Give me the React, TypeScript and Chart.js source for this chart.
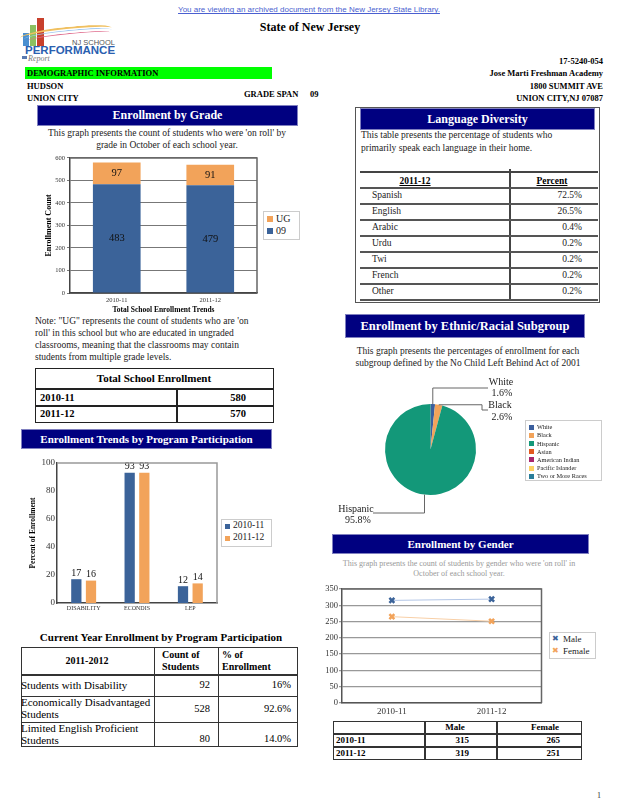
import React, { useEffect, useRef } from "react";
import { Chart, registerables } from "chart.js";
Chart.register(...registerables);

const SERIF = '"Liberation Serif", "Times New Roman", serif';
const SANS = '"Liberation Sans", Arial, sans-serif';
const BLUE = "#3b6399";
const ORANGE = "#f2a35a";
const NAVY = "#000080";

// ---------- data ----------
const gradeYears = ["2010-11", "2011-12"];
const grade09 = [483, 479];
const gradeUG = [97, 91];
const totalYears = ["2010-11", "2011-12"];
const totalEnrollment = [580, 570];

const langNames = ["Spanish", "English", "Arabic", "Urdu", "Twi", "French", "Other"];
const langPct = ["72.5%", "26.5%", "0.4%", "0.2%", "0.2%", "0.2%", "0.2%"];

const programCats = ["DISABILITY", "ECONDIS", "LEP"];
const program2010 = [17, 93, 12];
const program2011 = [16, 93, 14];

const ethnicLabels = ["White", "Black", "Hispanic", "Asian", "American Indian", "Pacific Islander", "Two or More Races"];
const ethnicPct = [1.6, 2.6, 95.8, 0, 0, 0, 0];
const ethnicColors = ["#3b5f9e", "#f2a35a", "#139879", "#e2581f", "#a8266d", "#fdd262", "#2a7d99"];

const genderYears = ["2010-11", "2011-12"];
const genderMale = [315, 319];
const genderFemale = [265, 251];

const currentRows = [["Students with Disability"], ["Economically Disadvantaged", "Students"], ["Limited English Proficient", "Students"]];
const currentCounts = [92, 528, 80];
const currentPct = ["16%", "92.6%", "14.0%"];

// ---------- helpers ----------
function Txt(p: any) {
  const { x, y, size = 10, bold = false, align = "left", color = "#000", family = SERIF, w = 300, italic = false, underline = false, children } = p;
  let left = x;
  if (align === "right") left = x - w;
  if (align === "center") left = x - w / 2;
  return (
    <div
      style={{
        position: "absolute", left, top: y - size * 0.6, width: align === "left" ? undefined : w,
        textAlign: align, fontSize: size, lineHeight: size * 1.2 + "px", fontFamily: family,
        fontWeight: bold ? "bold" : "normal", fontStyle: italic ? "italic" : "normal", color,
        whiteSpace: "nowrap", textDecoration: underline ? "underline" : "none",
      }}
    >
      {children}
    </div>
  );
}
const Rect = ({ x, y, w, h, bg = "transparent", border = "none" }: any) => (
  <div style={{ position: "absolute", left: x, top: y, width: w, height: h, background: bg, border, boxSizing: "border-box" }} />
);
const HL = ({ x1, x2, y, c = "#555", t = 1.5 }: any) => <Rect x={x1} y={y - t / 2} w={x2 - x1} h={t} bg={c} />;
const VL = ({ x, y1, y2, c = "#555", t = 1.5 }: any) => <Rect x={x - t / 2} y={y1} w={t} h={y2 - y1} bg={c} />;
const Header = ({ x, y, w, h, text, size = 12 }: any) => (
  <div style={{ position: "absolute", left: x, top: y, width: w, height: h, background: NAVY, color: "#fff", fontFamily: SERIF, fontWeight: "bold", fontSize: size, lineHeight: h + "px", textAlign: "center", whiteSpace: "nowrap", boxShadow: "0 0 0 1px #8080c0" }}>
    {text}
  </div>
);

function ChartCanvas({ x, y, w, h, make }: any) {
  const ref = useRef<HTMLCanvasElement>(null);
  useEffect(() => {
    const c = new Chart(ref.current as HTMLCanvasElement, make());
    return () => c.destroy();
  }, []);
  return <canvas ref={ref} width={w} height={h} style={{ position: "absolute", left: x, top: y, width: w, height: h }} />;
}

const frame = (color: string, lw: number) => ({
  id: "frame",
  afterDraw(chart: any) {
    const { ctx, chartArea: a } = chart;
    ctx.save();
    ctx.strokeStyle = color;
    ctx.lineWidth = lw;
    ctx.beginPath();
    ctx.moveTo(a.left, a.top);
    ctx.lineTo(a.right, a.top);
    ctx.lineTo(a.right, a.bottom);
    ctx.stroke();
    ctx.restore();
  },
});

const barLabels = (mode: string, size: number) => ({
  id: "barLabels",
  afterDatasetsDraw(chart: any) {
    const ctx = chart.ctx;
    ctx.save();
    ctx.font = `${size}px ${SERIF}`;
    ctx.fillStyle = "#111";
    ctx.textAlign = "center";
    chart.data.datasets.forEach((ds: any, di: number) => {
      chart.getDatasetMeta(di).data.forEach((el: any, i: number) => {
        const v = ds.data[i];
        if (mode === "center") {
          ctx.textBaseline = "middle";
          ctx.fillText(String(v), el.x, (el.y + el.base) / 2);
        } else {
          ctx.textBaseline = "bottom";
          ctx.fillText(String(v), el.x, el.y - 1);
        }
      });
    });
    ctx.restore();
  },
});

const pieLabels = {
  id: "pieLabels",
  afterDatasetsDraw(chart: any) {
    const ctx = chart.ctx;
    const meta = chart.getDatasetMeta(0);
    const ox = 330, oy = 370; // canvas offset in page coords
    const anchor = (i: number) => {
      const el: any = meta.data[i];
      const mid = (el.startAngle + el.endAngle) / 2;
      return [el.x + Math.cos(mid) * el.outerRadius, el.y + Math.sin(mid) * el.outerRadius];
    };
    ctx.save();
    ctx.strokeStyle = "#666";
    ctx.lineWidth = 1;
    ctx.font = `10px ${SERIF}`;
    ctx.fillStyle = "#222";
    ctx.textAlign = "center";
    ctx.textBaseline = "middle";
    const val = (i: number) => chart.data.datasets[0].data[i].toFixed(1) + "%";
    // White
    let [ax, ay] = anchor(0);
    ctx.beginPath();
    ctx.moveTo(ax, ay);
    ctx.lineTo(ax, 388 - oy);
    ctx.lineTo(488 - ox, 388 - oy);
    ctx.stroke();
    ctx.fillText(chart.data.labels[0], 501 - ox, 382 - oy);
    ctx.fillText(val(0), 502 - ox, 393 - oy);
    // Black
    [ax, ay] = anchor(1);
    ctx.beginPath();
    ctx.moveTo(ax, ay);
    ctx.lineTo(482 - ox, ay);
    ctx.lineTo(482 - ox, 410 - oy);
    ctx.lineTo(488 - ox, 410 - oy);
    ctx.stroke();
    ctx.fillText(chart.data.labels[1], 500 - ox, 405 - oy);
    ctx.fillText(val(1), 502 - ox, 417 - oy);
    // Hispanic
    [ax, ay] = anchor(2);
    ctx.beginPath();
    ctx.moveTo(ax, ay);
    ctx.lineTo(ax, 513 - oy);
    ctx.lineTo(373 - ox, 513 - oy);
    ctx.stroke();
    ctx.fillText(chart.data.labels[2], 356 - ox, 509 - oy);
    ctx.fillText(val(2), 358 - ox, 520 - oy);
    ctx.restore();
  },
};

const tickFont = (size: number) => ({ family: SERIF, size });

function gradeChart() {
  return {
    type: "bar",
    data: {
      labels: gradeYears,
      datasets: [
        { label: "09", data: grade09, backgroundColor: BLUE, barPercentage: 1, categoryPercentage: 0.51 },
        { label: "UG", data: gradeUG, backgroundColor: ORANGE, barPercentage: 1, categoryPercentage: 0.51 },
      ],
    },
    options: {
      responsive: false, animation: false,
      layout: { padding: { top: 5, right: 3, left: 0, bottom: 0 } },
      plugins: { legend: { display: false }, tooltip: { enabled: false } },
      scales: {
        x: {
          stacked: true,
          grid: { display: false, drawTicks: false },
          border: { color: "#444", width: 1.5 },
          ticks: { font: tickFont(6.5), color: "#333", padding: 3 },
          title: { display: true, text: "Total School Enrollment Trends", font: { family: SERIF, size: 7.5, weight: "bold" }, color: "#000", padding: { top: 0, bottom: 1.5 } },
          afterFit: (s: any) => { s.height = 23; },
        },
        y: {
          stacked: true, min: 0, max: 600,
          ticks: { stepSize: 100, font: tickFont(6.5), color: "#333", padding: 2 },
          grid: { color: "#777", lineWidth: 1, tickLength: 3 },
          border: { color: "#444", width: 1.5 },
          title: { display: true, text: "Enrollment Count", font: { family: SERIF, size: 8, weight: "bold" }, color: "#000", padding: { top: 4, bottom: 0 } },
          afterFit: (s: any) => { s.width = 30; },
        },
      },
    },
    plugins: [frame("#666", 1.5), barLabels("center", 10.5)],
  };
}

function programChart() {
  return {
    type: "bar",
    data: {
      labels: programCats,
      datasets: [
        { label: "2010-11", data: program2010, backgroundColor: BLUE, barPercentage: 0.7, categoryPercentage: 0.55 },
        { label: "2011-12", data: program2011, backgroundColor: ORANGE, barPercentage: 0.7, categoryPercentage: 0.55 },
      ],
    },
    options: {
      responsive: false, animation: false,
      layout: { padding: { top: 8, right: 3, left: 0, bottom: 0 } },
      plugins: { legend: { display: false }, tooltip: { enabled: false } },
      scales: {
        x: {
          grid: { display: false, drawTicks: false },
          border: { color: "#444", width: 1.5 },
          ticks: { font: tickFont(6), color: "#333", padding: 2 },
          afterFit: (s: any) => { s.height = 12; },
        },
        y: {
          min: 0, max: 100,
          ticks: { stepSize: 20, font: tickFont(9), color: "#333", padding: 2 },
          grid: { display: false, drawTicks: false },
          border: { color: "#444", width: 1.5 },
          title: { display: true, text: "Percent of Enrollment", font: { family: SERIF, size: 7.5, weight: "bold" }, color: "#000", padding: { top: 5, bottom: 0 } },
          afterFit: (s: any) => { s.width = 33; },
        },
      },
    },
    plugins: [frame("#999", 1.5), barLabels("top", 10)],
  };
}

function ethnicChart() {
  return {
    type: "pie",
    data: {
      labels: ethnicLabels,
      datasets: [{ data: ethnicPct, backgroundColor: ethnicColors, borderWidth: 0, radius: 45.5 }],
    },
    options: {
      responsive: false, animation: false,
      layout: { padding: 0 },
      plugins: { legend: { display: false }, tooltip: { enabled: false } },
    },
    plugins: [pieLabels],
  };
}

function genderChart() {
  const ds = (label: string, data: number[], line: string, mark: string) => ({
    label, data, borderColor: line, borderWidth: 1, pointStyle: "crossRot", pointRadius: 3.5,
    pointBorderColor: mark, pointBackgroundColor: mark, pointBorderWidth: 2.5, tension: 0,
  });
  return {
    type: "line",
    data: {
      labels: genderYears,
      datasets: [ds("Male", genderMale, "#b3c6e6", BLUE), ds("Female", genderFemale, "#f8cfa6", ORANGE)],
    },
    options: {
      responsive: false, animation: false,
      layout: { padding: { top: 9, right: 3, left: 0, bottom: 0 } },
      plugins: { legend: { display: false }, tooltip: { enabled: false } },
      scales: {
        x: {
          offset: true,
          grid: { display: false, drawTicks: false },
          border: { color: "#555", width: 1.5 },
          ticks: { font: tickFont(9), color: "#333", padding: 3 },
          afterFit: (s: any) => { s.height = 13; },
        },
        y: {
          min: 0, max: 350,
          ticks: { stepSize: 50, font: tickFont(8.5), color: "#333", padding: 1 },
          grid: { color: "#999", lineWidth: 1.3, tickLength: 3 },
          border: { color: "#555", width: 1.5 },
          afterFit: (s: any) => { s.width = 26; },
        },
      },
    },
    plugins: [frame("#666", 1.5)],
  };
}

function Swatch({ x, y, c, s = 6 }: any) {
  return <Rect x={x} y={y - s / 2} w={s} h={s} bg={c} />;
}

export default function App() {
  useEffect(() => {
    document.body.style.margin = "0";
  }, []);

  const langRowY = [188, 204, 220, 236, 252, 268, 284, 300];

  return (
    <div style={{ position: "relative", width: 618, height: 800, overflow: "hidden", background: "#fff", fontFamily: SERIF }}>
      {/* top banner */}
      <Txt x={309} y={10} size={8} family={SANS} align="center" w={400} color="#4a5fd0" underline>
        You are viewing an archived document from the New Jersey State Library.
      </Txt>
      <Txt x={310} y={27} size={12} bold align="center" w={300}>State of New Jersey</Txt>

      {/* logo */}
      <Rect x={23} y={33} w={6} h={13} bg="#4a8fd0" />
      <Rect x={30} y={25} w={6} h={21} bg="#8cc060" />
      <Rect x={37} y={18} w={7} h={28} bg="#c8402c" />
      <div style={{ position: "absolute", left: 20, top: 27, width: 92, height: 10, borderTop: "2px solid #f0c060", borderRadius: "60% 40% 0 0", transform: "rotate(-5deg)" }} />
      <div style={{ position: "absolute", left: 24, top: 30, width: 88, height: 8, borderTop: "1.5px solid #a0c8f0", borderRadius: "60% 40% 0 0", transform: "rotate(-5deg)" }} />
      <div style={{ position: "absolute", left: 28, top: 32.5, width: 82, height: 6, borderTop: "1px solid #e07090", borderRadius: "60% 40% 0 0", transform: "rotate(-5deg)" }} />
      <Txt x={72} y={42} size={7.5} family={SANS} color="#555">NJ SCHOOL</Txt>
      <Txt x={25} y={50.5} size={11.5} family={SANS} bold color="#2a60b0">PERFORMANCE</Txt>
      <Rect x={22} y={56} w={5} h={3} bg="#5a7ab0" />
      <Txt x={28} y={58.5} size={8} italic color="#777">Report</Txt>

      <Txt x={603} y={61} size={8.5} bold align="right">17-5240-054</Txt>
      <Rect x={25} y={67} w={247} h={12} bg="#00ff00" />
      <Txt x={27} y={73} size={8.5} bold>DEMOGRAPHIC INFORMATION</Txt>
      <Txt x={603} y={73} size={8.5} bold align="right">Jose Marti Freshman Academy</Txt>
      <Txt x={27} y={86} size={8.5} bold>HUDSON</Txt>
      <Txt x={603} y={86} size={8.5} bold align="right">1800 SUMMIT AVE</Txt>
      <Txt x={27} y={98} size={8.5} bold>UNION CITY</Txt>
      <Txt x={244} y={94} size={8.5} bold>GRADE SPAN</Txt>
      <Txt x={310} y={94} size={8.5} bold>09</Txt>
      <Txt x={603} y={98} size={8.5} bold align="right">UNION CITY,NJ 07087</Txt>

      {/* Enrollment by Grade */}
      <Header x={38} y={106} w={259} h={19} text="Enrollment by Grade" size={12} />
      <Txt x={167} y={134} size={9.5} align="center" w={300} color="#222">This graph presents the count of students who were 'on roll' by</Txt>
      <Txt x={167} y={146} size={9.5} align="center" w={300} color="#222">grade in October of each school year.</Txt>
      <ChartCanvas x={40} y={152} w={220} h={164} make={gradeChart} />
      <Rect x={263} y={211} w={37} h={29} border="1px solid #ccc" />
      <Swatch x={267} y={219} c={ORANGE} s={6} />
      <Txt x={276} y={219} size={10} color="#222">UG</Txt>
      <Swatch x={267} y={231} c={BLUE} s={6} />
      <Txt x={276} y={231} size={10} color="#222">09</Txt>

      <Txt x={35} y={322} size={9.5} color="#222">Note: "UG" represents the count of students who are 'on</Txt>
      <Txt x={35} y={334} size={9.5} color="#222">roll' in this school but who are educated in ungraded</Txt>
      <Txt x={35} y={346} size={9.5} color="#222">classrooms, meaning that the classrooms may contain</Txt>
      <Txt x={35} y={358} size={9.5} color="#222">students from multiple grade levels.</Txt>

      {/* Total School Enrollment */}
      <Rect x={35} y={368} w={239} h={21} border="1.5px solid #222" />
      <Txt x={154} y={378.5} size={11} bold align="center" w={239}>Total School Enrollment</Txt>
      <Rect x={35} y={389} w={239} h={34} border="1.5px solid #222" />
      <HL x1={35} x2={274} y={406} c="#222" t={1.5} />
      <VL x={177} y1={389} y2={423} c="#222" t={1.5} />
      {totalYears.map((yr, i) => (
        <React.Fragment key={yr}>
          <Txt x={40} y={398 + i * 16} size={10.5} bold>{yr}</Txt>
          <Txt x={246} y={398 + i * 16} size={10.5} bold align="right" w={60}>{totalEnrollment[i]}</Txt>
        </React.Fragment>
      ))}

      {/* Program Participation */}
      <Header x={22} y={430} w={249} h={18} text="Enrollment Trends by Program Participation" size={11} />
      <ChartCanvas x={24} y={455} w={196} h={160} make={programChart} />
      <Rect x={221} y={519} w={51} h={28} border="1px solid #ccc" />
      <Swatch x={225} y={526} c={BLUE} s={5} />
      <Txt x={233} y={526} size={9.5} color="#222">2010-11</Txt>
      <Swatch x={225} y={538} c={ORANGE} s={5} />
      <Txt x={233} y={538} size={9.5} color="#222">2011-12</Txt>

      {/* Current year table */}
      <Txt x={161} y={638} size={11} bold align="center" w={300}>Current Year Enrollment by Program Participation</Txt>
      <Rect x={21} y={647} w={277} h={100} border="1.5px solid #333" />
      <HL x1={21} x2={298} y={675} c="#333" t={1.5} />
      <HL x1={21} x2={298} y={696} c="#333" t={1} />
      <HL x1={21} x2={298} y={722} c="#333" t={1} />
      <VL x={154} y1={647} y2={747} c="#333" t={1} />
      <VL x={218} y1={647} y2={747} c="#333" t={1} />
      <Txt x={87} y={661} size={10} bold align="center" w={130}>2011-2012</Txt>
      <Txt x={162} y={655} size={10} bold>Count of</Txt>
      <Txt x={162} y={667} size={10} bold>Students</Txt>
      <Txt x={222} y={655} size={10} bold>% of</Txt>
      <Txt x={222} y={667} size={10} bold>Enrollment</Txt>
      {currentRows.map((lines, i) => {
        const top = [675, 696, 722][i];
        const bottom = [696, 722, 747][i];
        const mid = (top + bottom) / 2;
        return (
          <React.Fragment key={i}>
            {lines.length === 1 ? (
              <Txt x={21} y={mid} size={11}>{lines[0]}</Txt>
            ) : (
              <>
                <Txt x={21} y={mid - 6} size={11}>{lines[0]}</Txt>
                <Txt x={21} y={mid + 6} size={11}>{lines[1]}</Txt>
              </>
            )}
            <Txt x={210} y={i === 2 ? mid + 5 : mid} size={10.5} align="right" w={60}>{currentCounts[i]}</Txt>
            <Txt x={291} y={i === 2 ? mid + 5 : mid} size={10.5} align="right" w={60}>{currentPct[i]}</Txt>
          </React.Fragment>
        );
      })}

      {/* Language Diversity */}
      <Rect x={355} y={107} w={245} h={196} border="1.5px solid #555" />
      <Header x={361} y={109} w={233} h={20} text="Language Diversity" size={12} />
      <Txt x={361} y={136} size={9.5} color="#222">This table presents the percentage of students who</Txt>
      <Txt x={361} y={148.5} size={9.5} color="#222">primarily speak each language in their home.</Txt>
      <HL x1={360} x2={598} y={172} c="#444" t={1.5} />
      <VL x={510} y1={169} y2={301} c="#444" t={1.5} />
      {langRowY.map((y) => (
        <HL key={y} x1={360} x2={598} y={y} c="#555" t={1.5} />
      ))}
      <Txt x={415} y={181.5} size={9.5} bold underline align="center" w={80}>2011-12</Txt>
      <Txt x={552} y={181.5} size={9.5} bold underline align="center" w={80}>Percent</Txt>
      {langNames.map((n, i) => (
        <React.Fragment key={n}>
          <Txt x={372} y={196 + i * 16} size={9.5} color="#222">{n}</Txt>
          <Txt x={582} y={196 + i * 16} size={9.5} color="#222" align="right" w={60}>{langPct[i]}</Txt>
        </React.Fragment>
      ))}

      {/* Ethnic */}
      <Header x={346} y={315} w={238} h={22} text="Enrollment by Ethnic/Racial Subgroup" size={12.5} />
      <Txt x={468} y={352} size={9.5} align="center" w={300} color="#222">This graph presents the percentages of enrollment for each</Txt>
      <Txt x={468} y={364} size={9.5} align="center" w={300} color="#222">subgroup defined by the No Child Left Behind Act of 2001</Txt>
      <ChartCanvas x={330} y={370} w={201} h={159} make={ethnicChart} />
      <Rect x={525} y={420} w={77} h={61} border="1px solid #ccc" />
      {ethnicLabels.map((l, i) => (
        <React.Fragment key={l}>
          <Swatch x={529} y={427 + i * 8.2} c={ethnicColors[i]} s={5} />
          <Txt x={537} y={427 + i * 8.2} size={6.3} color="#222">{l}</Txt>
        </React.Fragment>
      ))}

      {/* Gender */}
      <Header x={333} y={535} w={255} h={18} text="Enrollment by Gender" size={11} />
      <Txt x={459} y={564} size={8} align="center" w={300} color="#999">This graph presents the count of students by gender who were 'on roll' in</Txt>
      <Txt x={459} y={574} size={8} align="center" w={300} color="#999">October of each school year.</Txt>
      <ChartCanvas x={316} y={580} w={232} h={136} make={genderChart} />
      <Rect x={549} y={632} w={47} h={27} border="1px solid #ccc" />
      <Txt x={552} y={639} size={8} family='"DejaVu Sans", sans-serif' color={BLUE}>✖</Txt>
      <Txt x={563} y={639} size={9} color="#222">Male</Txt>
      <Txt x={552} y={651} size={8} family='"DejaVu Sans", sans-serif' color={ORANGE}>✖</Txt>
      <Txt x={563} y={651} size={9} color="#222">Female</Txt>

      <Rect x={333} y={721} w={249} h={39} border="1.5px solid #333" />
      <HL x1={333} x2={582} y={734} c="#333" t={1.5} />
      <HL x1={333} x2={582} y={747} c="#333" t={1.5} />
      <VL x={425} y1={721} y2={760} c="#333" t={1.5} />
      <VL x={497} y1={721} y2={760} c="#333" t={1.5} />
      <Txt x={455} y={727.5} size={9} bold align="center" w={70}>Male</Txt>
      <Txt x={545} y={727.5} size={9} bold align="center" w={80}>Female</Txt>
      {genderYears.map((yr, i) => (
        <React.Fragment key={yr}>
          <Txt x={336} y={740.5 + i * 13} size={9} bold>{yr}</Txt>
          <Txt x={469} y={740.5 + i * 13} size={9} bold align="right" w={50}>{genderMale[i]}</Txt>
          <Txt x={560} y={740.5 + i * 13} size={9} bold align="right" w={50}>{genderFemale[i]}</Txt>
        </React.Fragment>
      ))}

      <Txt x={597} y={796} size={8} color="#333">1</Txt>
    </div>
  );
}
